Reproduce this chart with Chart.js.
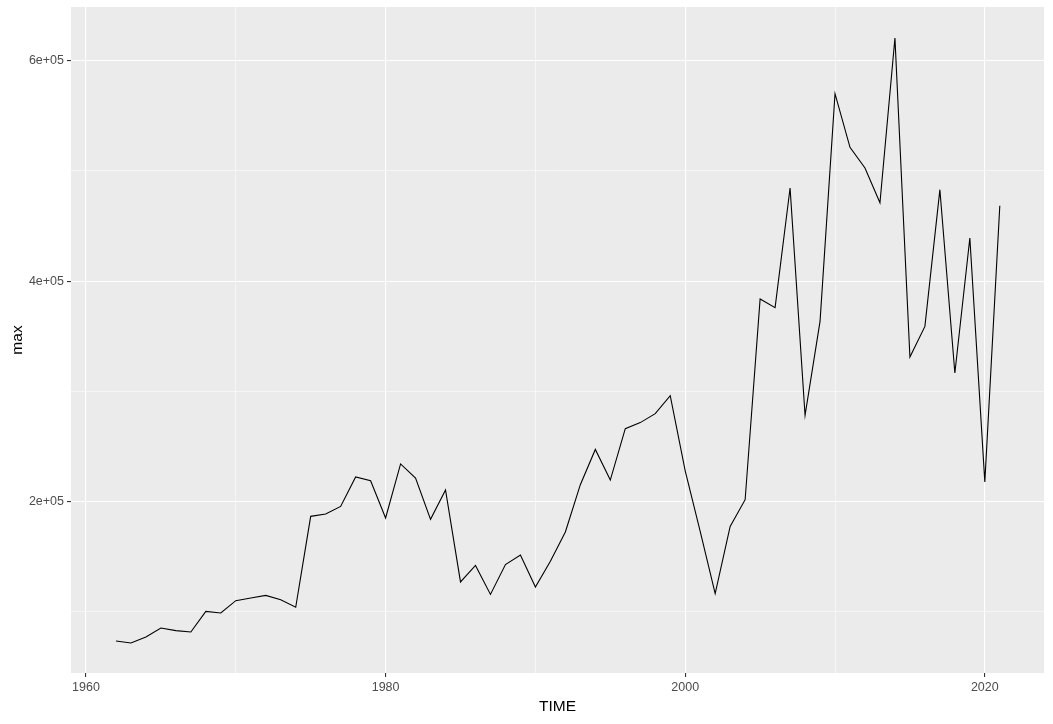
<!DOCTYPE html>
<html>
<head>
<meta charset="utf-8">
<script src="https://cdn.jsdelivr.net/npm/chart.js@4.4.1/dist/chart.umd.min.js"></script>
<style>
  html, body { margin: 0; padding: 0; background: #FFFFFF; }
  #wrap { width: 1053px; height: 724px; position: relative; }
</style>
</head>
<body>
<div id="wrap"><canvas id="chart"></canvas></div>
<script>
'use strict';

const YEARS = [
  1962, 1963, 1964, 1965, 1966, 1967, 1968, 1969, 1970, 1971,
  1972, 1973, 1974, 1975, 1976, 1977, 1978, 1979, 1980, 1981,
  1982, 1983, 1984, 1985, 1986, 1987, 1988, 1989, 1990, 1991,
  1992, 1993, 1994, 1995, 1996, 1997, 1998, 1999, 2000, 2001,
  2002, 2003, 2004, 2005, 2006, 2007, 2008, 2009, 2010, 2011,
  2012, 2013, 2014, 2015, 2016, 2017, 2018, 2019, 2020, 2021,
];

const MAX_VALUES = [
  73600, 71800, 77300, 85400, 83000, 81800, 100500, 99000, 110200, 112600,
  115000, 111100, 104200, 186700, 188800, 195700, 222400, 219000, 185200, 234200,
  221500, 184000, 210600, 127200, 142200, 115900, 142900, 151600, 122600, 145900,
  172500, 215400, 247400, 219600, 266200, 271700, 279800, 296100, 228000, 173000,
  116600, 177600, 201800, 383900, 376000, 484500, 278300, 363500, 570100, 521400,
  502700, 471200, 620600, 331200, 359000, 483000, 316700, 439200, 217900, 468500,
];

const X_TICKS = [1960, 1970, 1980, 1990, 2000, 2010, 2020];
const X_LABELED = [1960, 1980, 2000, 2020];
const Y_TICKS = [100000, 200000, 300000, 400000, 500000, 600000];
const Y_LABELED = [200000, 400000, 600000];

const panelBg = {
  id: 'panelBg',
  beforeDraw(chart) {
    const { ctx, chartArea: { left, top, width, height } } = chart;
    ctx.save();
    ctx.fillStyle = '#EBEBEB';
    ctx.fillRect(left, top, width, height);
    ctx.restore();
  },
};

const tickFont = { family: 'Liberation Sans, Arial, sans-serif', size: 12.5 };
const titleFont = { family: 'Liberation Sans, Arial, sans-serif', size: 15.5 };

function gridWidth(labeled) {
  return ctx => (ctx.tick && labeled.includes(ctx.tick.value) ? 1.1 : 0.55);
}
function tickMarkColor(labeled) {
  return ctx => (ctx.tick && labeled.includes(ctx.tick.value) ? '#333333' : 'rgba(0,0,0,0)');
}

new Chart(document.getElementById('chart'), {
  type: 'line',
  data: {
    datasets: [{
      data: YEARS.map((yr, i) => ({ x: yr, y: MAX_VALUES[i] })),
      borderColor: '#000000',
      borderWidth: 1.1,
      pointRadius: 0,
      tension: 0,
      fill: false,
    }],
  },
  options: {
    responsive: true,
    maintainAspectRatio: false,
    devicePixelRatio: 1,
    animation: false,
    layout: { padding: { top: 7, right: 9, left: 0, bottom: 0 } },
    plugins: {
      legend: { display: false },
      tooltip: { enabled: false },
    },
    scales: {
      x: {
        type: 'linear',
        min: 1959.0,
        max: 2023.95,
        afterBuildTicks: s => { s.ticks = X_TICKS.map(v => ({ value: v })); },
        afterFit: s => { s.height = 51; s.paddingLeft = 0; s.paddingRight = 0; },
        border: { display: false },
        grid: {
          color: '#FFFFFF',
          lineWidth: gridWidth(X_LABELED),
          tickColor: tickMarkColor(X_LABELED),
          tickWidth: 1.1,
          tickLength: 4,
        },
        ticks: {
          autoSkip: false,
          maxRotation: 0,
          padding: 3,
          color: '#4D4D4D',
          font: tickFont,
          callback: v => (X_LABELED.includes(v) ? String(v) : ''),
        },
        title: {
          display: true,
          text: 'TIME',
          color: '#000000',
          font: titleFont,
          padding: { top: 0, bottom: 8 },
        },
      },
      y: {
        type: 'linear',
        min: 44600,
        max: 648700,
        afterBuildTicks: s => { s.ticks = Y_TICKS.map(v => ({ value: v })); },
        afterFit: s => { s.width = 71; s.paddingTop = 0; s.paddingBottom = 0; },
        border: { display: false },
        grid: {
          color: '#FFFFFF',
          lineWidth: gridWidth(Y_LABELED),
          tickColor: tickMarkColor(Y_LABELED),
          tickWidth: 1.1,
          tickLength: 4,
        },
        ticks: {
          autoSkip: false,
          padding: 3,
          color: '#4D4D4D',
          font: tickFont,
          callback: v => (Y_LABELED.includes(v) ? (v / 100000) + 'e+05' : ''),
        },
        title: {
          display: true,
          text: 'max',
          color: '#000000',
          font: titleFont,
          padding: { top: 8, bottom: 0 },
        },
      },
    },
  },
  plugins: [panelBg],
});
</script>
</body>
</html>
